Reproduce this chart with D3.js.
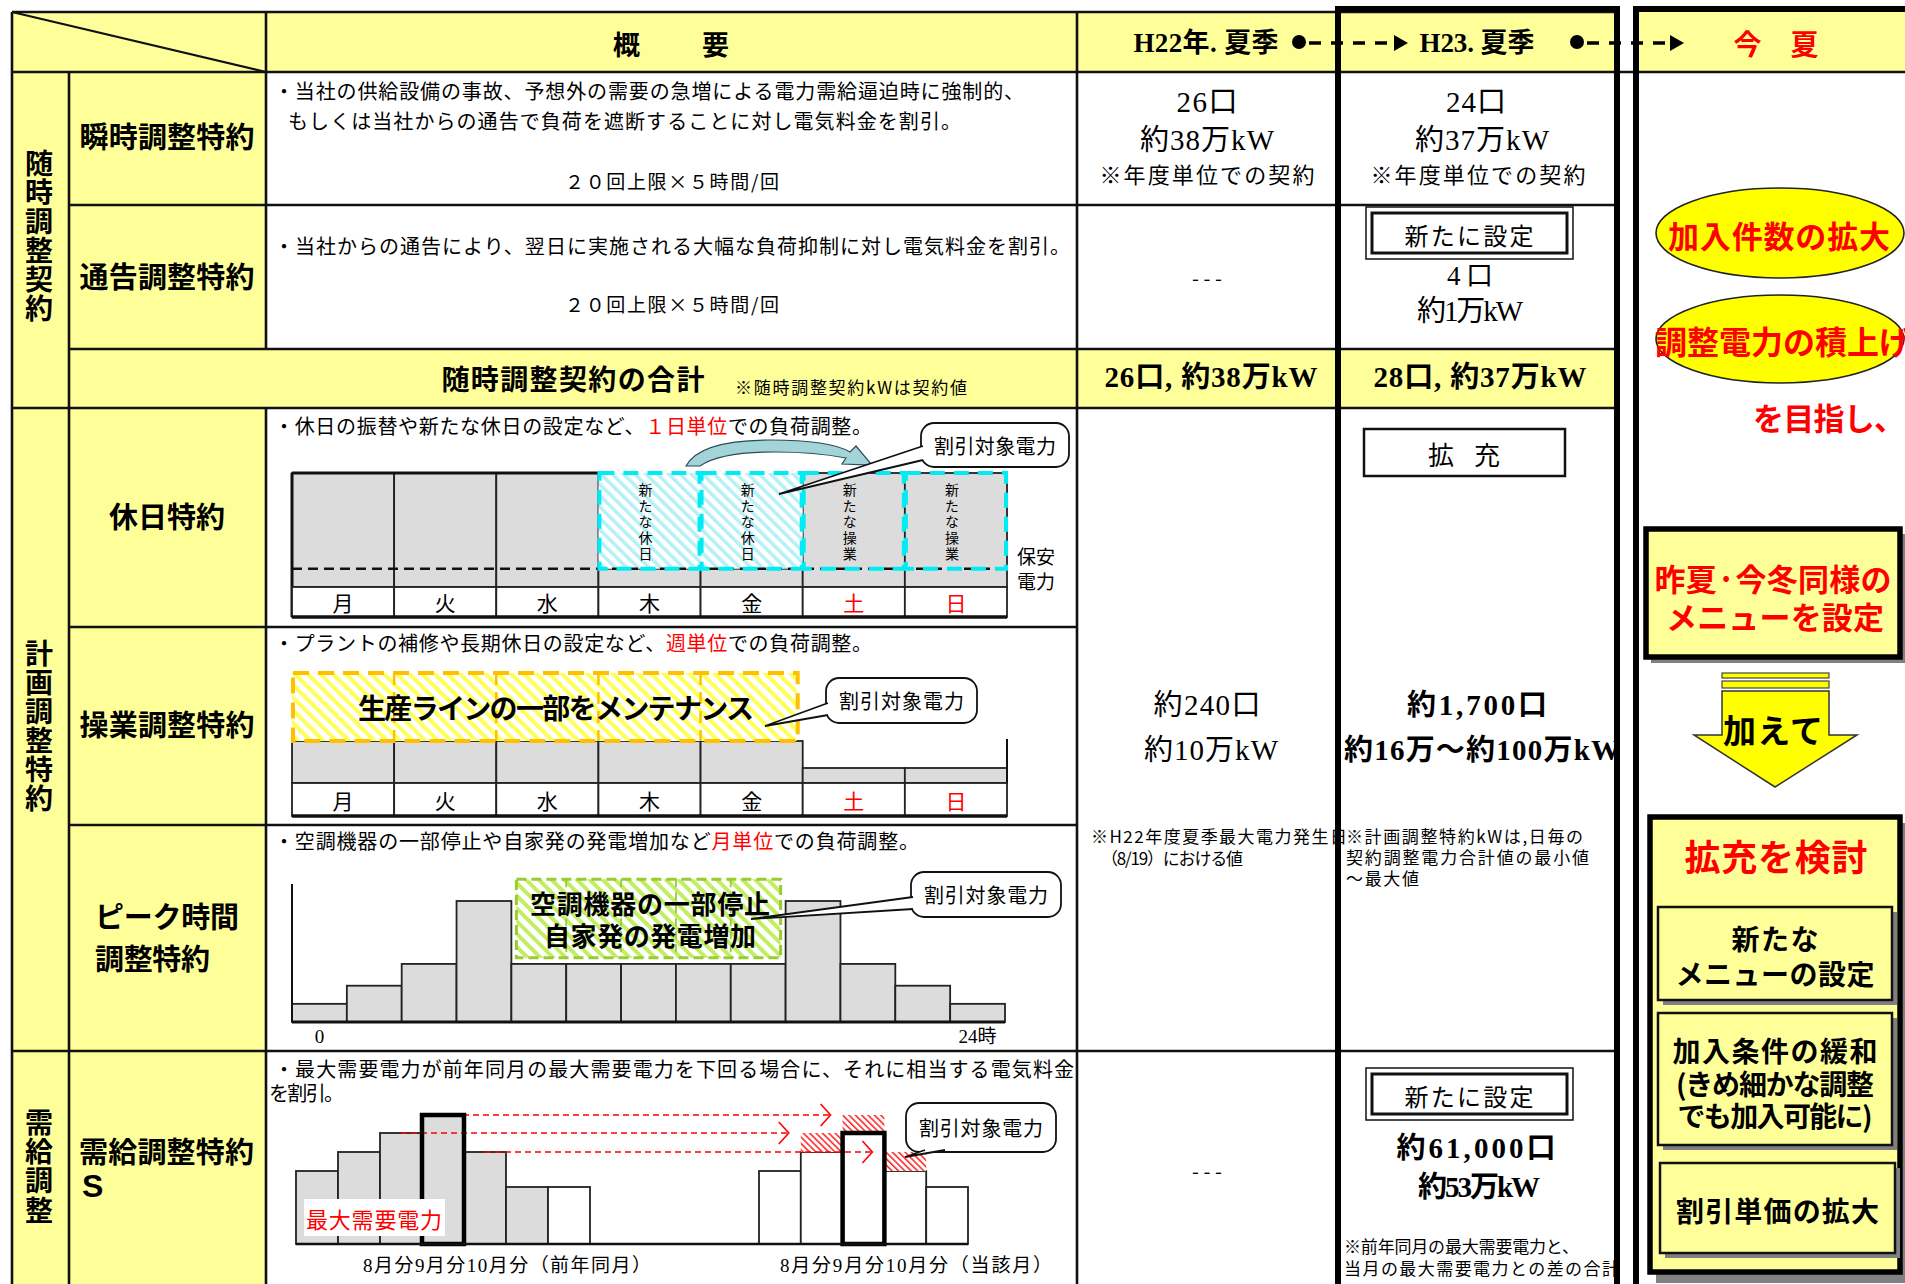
<!DOCTYPE html>
<html><head><meta charset="utf-8">
<script src="https://cdn.jsdelivr.net/npm/d3@7"></script>
<style>body{margin:0;background:#fff}svg{display:block}</style>
</head><body>
<script>
// ================= DATA =================
const headerTitles = ["概　要", "H22年. 夏季", "H23. 夏季", "今　夏"];
const groupLabels = ["随時調整契約", "計画調整特約", "需給調整"];
const contractNames = ["瞬時調整特約", "通告調整特約", "休日特約", "操業調整特約", "ピーク時間", "調整特約", "需給調整特約", "S"];
const totalLabel = "随時調整契約の合計";
const totalNote = "※随時調整契約kWは契約値";
const h22Values = ["26口", "約38万kW", "※年度単位での契約", "- - -", "26口, 約38万kW", "約240口", "約10万kW", "- - -"];
const h23Values = ["24口", "約37万kW", "※年度単位での契約", "4口", "約1万kW", "28口, 約37万kW", "約1,700口", "約16万～約100万kW", "約61,000口", "約53万kW"];
const h22Notes = ["※H22年度夏季最大電力発生日", "（8/19）における値"];
const h23PlanNotes = ["※計画調整特約kWは,日毎の", "契約調整電力合計値の最小値", "～最大値"];
const h23DemandNotes = ["※前年同月の最大需要電力と、", "当月の最大需要電力との差の合計"];
const days = ["月", "火", "水", "木", "金", "土", "日"];
const weekend = ["土", "日"];
// 休日特約 (load level, % of normal)
const holidayLoad = [100, 100, 100, 16, 16, 100, 100];
const holidayTarget = [0, 0, 0, 100, 100, 100, 100];
const holidayNotes = ["", "", "", "新たな休日", "新たな休日", "新たな操業", "新たな操業"];
const securityPower = 16;
// 操業調整特約
const operationLoad = [42, 42, 42, 42, 42, 15, 15];
const maintenanceTop = [110, 110, 110, 110, 110, 0, 0];
// ピーク時間調整特約 (13 time blocks, 0-24h)
const peakLoad = [15, 30, 48, 100, 48, 48, 48, 48, 48, 100, 48, 30, 15];
const peakCutBlocks = [4, 5, 6, 7, 8];
const peakCutRange = [53, 118];
const peakTickLabels = ["0", "24時"];
// 需給調整特約S (max demand by month)
const prevYearDemand = [73, 92, 111, 129, 92, 57, 57];
const currYearDemand = [73, 92, 111, 73, 57];
const discountPairs = [[1, 2], [2, 3], [3, 4]]; // [current idx, previous-year idx]
// right panel
const goals = ["加入件数の拡大", "調整電力の積上げ", "を目指し、"];
const sameMenu = ["昨夏·今冬同様の", "メニューを設定"];
const reviewItems = [["新たな", "メニューの設定"], ["加入条件の緩和", "(きめ細かな調整", "でも加入可能に)"], ["割引単価の拡大"]];

// ================= SETUP =================
const SANS = "'Noto Sans CJK JP','Noto Sans',sans-serif";
const SERIF = "'Liberation Serif','Noto Sans CJK JP',serif";
const YEL = "#ffff99";
const RED = "#ff0000";
const svg = d3.select("body").append("svg").attr("width", 1905).attr("height", 1284);
const defs = svg.append("defs");
function hatch(id, color, bg, sw, period) {
  const p = defs.append("pattern").attr("id", id).attr("patternUnits", "userSpaceOnUse")
    .attr("width", period).attr("height", period).attr("patternTransform", "rotate(-45)");
  p.append("rect").attr("width", period).attr("height", period).attr("fill", bg);
  p.append("rect").attr("width", sw).attr("height", period).attr("fill", color);
}
hatch("hCyan", "#b4f0f6", "#ffffff", 3.5, 8);
hatch("hYel", "#ffff55", "#ffffff", 4, 9);
hatch("hGrn", "#c2ee62", "#ffffff", 4, 9);
hatch("hRed", "#ff2a2a", "#ffffff", 1.6, 4.5);

function T(g, x, y, s, o = {}) {
  const t = g.append("text").attr("x", x).attr("y", y)
    .attr("font-size", o.size || 20).attr("font-weight", o.weight || 400)
    .attr("fill", o.fill || "#000").attr("text-anchor", o.anchor || "middle")
    .attr("dominant-baseline", "central").attr("font-family", o.family || SANS);
  if (Array.isArray(s)) s.forEach(p => t.append("tspan").text(p.t).attr("fill", p.c || null));
  else t.text(s);
  if (o.len) t.attr("textLength", o.len).attr("lengthAdjust", o.adj || "spacing");
  return t;
}
function V(g, x, yTop, s, size, spacing, weight) {
  return g.append("text").attr("x", x).attr("y", yTop)
    .style("writing-mode", "vertical-rl").attr("text-anchor", "start")
    .attr("font-size", size).attr("font-weight", weight || 400).attr("font-family", SANS)
    .attr("letter-spacing", spacing).attr("fill", "#000").text(s);
}
function R(g, x, y, w, h, fill, stroke, sw) {
  return g.append("rect").attr("x", x).attr("y", y).attr("width", w).attr("height", h)
    .attr("fill", fill || "none").attr("stroke", stroke || "none").attr("stroke-width", sw || 0);
}
function L(g, x1, y1, x2, y2, sw, col, dash) {
  const l = g.append("line").attr("x1", x1).attr("y1", y1).attr("x2", x2).attr("y2", y2)
    .attr("stroke", col || "#111").attr("stroke-width", sw || 2);
  if (dash) l.attr("stroke-dasharray", dash);
  return l;
}
function callout(g, bx, by, bw, bh, b1, b2, tip, label) {
  R(g, bx, by, bw, bh, "#fff", "#111", 1.8).attr("rx", 13);
  g.append("path").attr("d", `M${b1}L${tip}L${b2}Z`).attr("fill", "#fff");
  g.append("path").attr("d", `M${b1}L${tip}L${b2}`).attr("fill", "none").attr("stroke", "#111").attr("stroke-width", 1.8);
  T(g, bx + bw / 2, by + bh / 2, label, {size: 20, len: bw - 26});
}

// ================= BACKGROUND CELLS =================
const bg = svg.append("g");
R(bg, 12, 12, 1605, 60, YEL);
R(bg, 1636, 10, 269, 62, YEL);
R(bg, 12, 72, 254, 1212, YEL);
R(bg, 69, 349, 1548, 59, YEL);

// ================= 休日特約 chart =================
const g1 = svg.append("g");
const xDay = d3.scaleBand().domain(days).range([292, 1007]);
const bw = xDay.bandwidth();
const yHol = d3.scaleLinear().domain([0, 100]).range([587, 473]);
g1.selectAll("rect.hb").data(days).join("rect").attr("class", "hb")
  .attr("x", d => xDay(d)).attr("width", bw)
  .attr("y", (d, i) => yHol(holidayLoad[i])).attr("height", (d, i) => yHol(0) - yHol(holidayLoad[i]))
  .attr("fill", "#dcdcdc").attr("stroke", "#222").attr("stroke-width", 1.8);
g1.selectAll("rect.hh").data(days.filter((d, i) => holidayTarget[i] > holidayLoad[i])).join("rect").attr("class", "hh")
  .attr("x", d => xDay(d)).attr("width", bw)
  .attr("y", d => yHol(holidayTarget[days.indexOf(d)]))
  .attr("height", d => yHol(holidayLoad[days.indexOf(d)]) - yHol(holidayTarget[days.indexOf(d)]))
  .attr("fill", "url(#hCyan)");
L(g1, 292, 473, xDay("木"), 473, 3);
L(g1, 292, 473, 292, 617, 3);
L(g1, 292, yHol(securityPower), 1007, yHol(securityPower), 2.6, "#111", "10 6");
g1.selectAll("rect.hc").data(days.filter((d, i) => holidayTarget[i] > 0)).join("rect").attr("class", "hc")
  .attr("x", d => xDay(d) + 1).attr("width", bw - 2)
  .attr("y", d => yHol(holidayTarget[days.indexOf(d)])).attr("height", yHol(securityPower) - yHol(100))
  .attr("fill", "none").attr("stroke", "#00ecf4").attr("stroke-width", 4).attr("stroke-dasharray", "15 9");
days.forEach((d, i) => {
  if (!holidayNotes[i]) return;
  V(g1, xDay(d) + bw / 2 - 4, 483, holidayNotes[i], 14, 2);
});
g1.selectAll("rect.hd").data(days).join("rect").attr("class", "hd")
  .attr("x", d => xDay(d)).attr("width", bw).attr("y", 587).attr("height", 30)
  .attr("fill", "#fff").attr("stroke", "#222").attr("stroke-width", 1.8);
L(g1, 292, 617, 1007, 617, 3.5);
days.forEach(d => T(g1, xDay(d) + bw / 2, 602, d, {size: 21, fill: weekend.includes(d) ? RED : "#000"}));
T(g1, 1017, 555, "保安", {size: 19, anchor: "start"});
T(g1, 1017, 580, "電力", {size: 19, anchor: "start"});
// curved shift arrow
g1.append("path").attr("d", "M686,466 Q700,440 770,440 Q830,440 850,452 L856,446 L872,465 L842,464 L846,458 Q815,452 775,452 Q720,452 700,466 Z")
  .attr("fill", "#a2d4d8").attr("stroke", "#2e4a5a").attr("stroke-width", 1.2);
callout(g1, 921, 423, 148, 44, "923,446", "923,460", "779,494", "割引対象電力");
T(g1, 274, 425, [{t: "・休日の振替や新たな休日の設定など、"}, {t: "１日単位", c: RED}, {t: "での負荷調整。"}], {size: 20, anchor: "start", len: 598});

// ================= 操業調整特約 chart =================
const g2 = svg.append("g");
const yOp = d3.scaleLinear().domain([0, 110]).range([783, 673]);
g2.selectAll("rect.ob").data(days).join("rect").attr("class", "ob")
  .attr("x", d => xDay(d)).attr("width", bw)
  .attr("y", (d, i) => yOp(operationLoad[i])).attr("height", (d, i) => yOp(0) - yOp(operationLoad[i]))
  .attr("fill", "#dcdcdc").attr("stroke", "#222").attr("stroke-width", 1.8);
const mDays = days.filter((d, i) => maintenanceTop[i] > 0);
const mx0 = xDay(mDays[0]), mx1 = xDay(mDays[mDays.length - 1]) + bw - 6;
R(g2, mx0, yOp(110), mx1 - mx0, yOp(42) - yOp(110), "url(#hYel)");
mDays.slice(1).forEach(d => L(g2, xDay(d), yOp(110), xDay(d), yOp(42), 2.5, "#ffc000", "12 7"));
R(g2, mx0 + 1, yOp(110), mx1 - mx0, yOp(42) - yOp(110), "none", "#ffc000", 4).attr("stroke-dasharray", "16 9");
L(g2, 1007, yOp(42) - 2, 1007, 783, 2);
g2.selectAll("rect.od").data(days).join("rect").attr("class", "od")
  .attr("x", d => xDay(d)).attr("width", bw).attr("y", 783).attr("height", 33)
  .attr("fill", "#fff").attr("stroke", "#222").attr("stroke-width", 1.8);
L(g2, 292, 816, 1007, 816, 3.5);
days.forEach(d => T(g2, xDay(d) + bw / 2, 800, d, {size: 21, fill: weekend.includes(d) ? RED : "#000"}));
T(g2, 556, 707, "生産ラインの一部をメンテナンス", {size: 28, weight: 700, len: 396});
callout(g2, 826, 678, 151, 45, "828,703", "828,715", "765,726", "割引対象電力");
T(g2, 274, 642, [{t: "・プラントの補修や長期休日の設定など、"}, {t: "週単位", c: RED}, {t: "での負荷調整。"}], {size: 20, anchor: "start", len: 598});

// ================= ピーク時間調整特約 chart =================
const g3 = svg.append("g");
const xPeak = d3.scaleBand().domain(d3.range(peakLoad.length)).range([292, 1005]);
const pw = xPeak.bandwidth();
const yPeak = d3.scaleLinear().domain([0, 100]).range([1022, 901]);
g3.selectAll("rect.pb").data(peakLoad).join("rect").attr("class", "pb")
  .attr("x", (d, i) => xPeak(i)).attr("width", pw)
  .attr("y", d => yPeak(d)).attr("height", d => yPeak(0) - yPeak(d))
  .attr("fill", "#dcdcdc").attr("stroke", "#222").attr("stroke-width", 1.8);
L(g3, 292, 884, 292, 1022, 2);
L(g3, 292, 1022, 1005, 1022, 3.2);
const cx0 = xPeak(peakCutBlocks[0]) + 5, cx1 = xPeak(peakCutBlocks[peakCutBlocks.length - 1]) + pw - 5;
R(g3, cx0, yPeak(peakCutRange[1]), cx1 - cx0, yPeak(peakCutRange[0]) - yPeak(peakCutRange[1]), "url(#hGrn)");
peakCutBlocks.slice(1).forEach(i => L(g3, xPeak(i), yPeak(peakCutRange[1]), xPeak(i), yPeak(peakCutRange[0]), 1.8, "#99cc33", "8 5"));
R(g3, cx0, yPeak(peakCutRange[1]), cx1 - cx0, yPeak(peakCutRange[0]) - yPeak(peakCutRange[1]), "none", "#99cc33", 3).attr("stroke-dasharray", "10 5");
T(g3, 650, 902, "空調機器の一部停止", {size: 26, weight: 700, len: 240});
T(g3, 650, 934, "自家発の発電増加", {size: 26, weight: 700, len: 212});
const pax = d3.axisBottom(xPeak).tickValues([0, peakLoad.length - 1])
  .tickFormat(d => peakTickLabels[d === 0 ? 0 : 1]).tickSize(0).tickPadding(8);
const paxG = g3.append("g").attr("transform", "translate(0,1022)").call(pax);
paxG.select(".domain").remove();
paxG.selectAll("text").attr("font-size", 19).attr("font-family", SERIF).attr("fill", "#000");
callout(g3, 911, 872, 150, 45, "913,897", "913,909", "751,919", "割引対象電力");
T(g3, 274, 840, [{t: "・空調機器の一部停止や自家発の発電増加など"}, {t: "月単位", c: RED}, {t: "での負荷調整。"}], {size: 20, anchor: "start", len: 645});

// ================= 需給調整特約S chart =================
const g4 = svg.append("g");
const xPrev = d3.scaleBand().domain(d3.range(prevYearDemand.length)).range([296, 590]);
const xCurr = d3.scaleBand().domain(d3.range(currYearDemand.length)).range([759, 968]);
const yDem = d3.scaleLinear().domain([0, 140]).range([1244, 1104]);
g4.selectAll("rect.pv").data(prevYearDemand).join("rect").attr("class", "pv")
  .attr("x", (d, i) => xPrev(i)).attr("width", xPrev.bandwidth())
  .attr("y", d => yDem(d)).attr("height", d => yDem(0) - yDem(d))
  .attr("fill", (d, i) => i < prevYearDemand.length - 1 ? "#dcdcdc" : "#fff").attr("stroke", "#222").attr("stroke-width", 1.8);
g4.selectAll("rect.cv").data(currYearDemand).join("rect").attr("class", "cv")
  .attr("x", (d, i) => xCurr(i)).attr("width", xCurr.bandwidth())
  .attr("y", d => yDem(d)).attr("height", d => yDem(0) - yDem(d))
  .attr("fill", "#fff").attr("stroke", "#222").attr("stroke-width", 1.8);
discountPairs.forEach(([c, p]) => {
  R(g4, xCurr(c), yDem(prevYearDemand[p]), xCurr.bandwidth(), yDem(currYearDemand[c]) - yDem(prevYearDemand[p]), "url(#hRed)");
  const y = yDem(prevYearDemand[p]);
  const xe = xCurr(c) - 12;
  L(g4, xPrev(p) + xPrev.bandwidth() / 2, y, xe, y, 1.6, RED, "6 4");
  g4.append("path").attr("d", `M${xe - 10},${y - 11}L${xe},${y}L${xe - 10},${y + 11}`).attr("fill", "none").attr("stroke", RED).attr("stroke-width", 1.6);
});
const pMax = d3.maxIndex(prevYearDemand), cMax = d3.maxIndex(currYearDemand);
R(g4, xPrev(pMax), yDem(prevYearDemand[pMax]), xPrev.bandwidth(), yDem(0) - yDem(prevYearDemand[pMax]), "none", "#000", 4.5);
R(g4, xCurr(cMax), yDem(currYearDemand[cMax]), xCurr.bandwidth(), yDem(0) - yDem(currYearDemand[cMax]), "none", "#000", 4.5);
L(g4, 296, 1244, 968, 1244, 2.5);
R(g4, 304, 1199, 141, 37, "#fff");
T(g4, 374, 1218, "最大需要電力", {size: 22, fill: RED, len: 136});
T(g4, 363, 1265, "8月分9月分10月分（前年同月）", {size: 19, family: SERIF, anchor: "start", len: 288});
T(g4, 780, 1265, "8月分9月分10月分（当該月）", {size: 19, family: SERIF, anchor: "start", len: 272});
callout(g4, 906, 1103, 150, 49, "925,1150", "945,1150", "905,1157", "割引対象電力");
T(g4, 274, 1068, "・最大需要電力が前年同月の最大需要電力を下回る場合に、それに相当する電気料金", {size: 20, anchor: "start", len: 800});
T(g4, 269, 1092, "を割引。", {size: 20, anchor: "start", len: 75});

// ================= SUMMARY TEXTS (rows 1-3) =================
const gt = svg.append("g");
T(gt, 274, 90, "・当社の供給設備の事故、予想外の需要の急増による電力需給逼迫時に強制的、", {size: 20, anchor: "start", len: 750});
T(gt, 288, 120, "もしくは当社からの通告で負荷を遮断することに対し電気料金を割引。", {size: 20, anchor: "start", len: 673});
T(gt, 672, 180, "２０回上限×５時間/回", {size: 19, len: 214});
T(gt, 274, 245, "・当社からの通告により、翌日に実施される大幅な負荷抑制に対し電気料金を割引。", {size: 20, anchor: "start", len: 796});
T(gt, 672, 303, "２０回上限×５時間/回", {size: 19, len: 214});
T(gt, 573, 378, totalLabel, {size: 28, weight: 700, len: 263});
T(gt, 735, 386, totalNote, {size: 17, anchor: "start", len: 232});

// ================= HEADER =================
const gh = svg.append("g");
T(gh, 671, 43, headerTitles[0], {size: 27, weight: 700, len: 116});
T(gh, 1206, 43, headerTitles[1], {size: 27, weight: 700, family: SERIF, len: 145});
T(gh, 1477, 43, headerTitles[2], {size: 27, weight: 700, family: SERIF, len: 115});
T(gh, 1776, 43, headerTitles[3], {size: 28, weight: 700, fill: RED, len: 85});
[[1299, 1396], [1577, 1672]].forEach(([x0, x1]) => {
  gh.append("circle").attr("cx", x0).attr("cy", 42).attr("r", 7).attr("fill", "#000");
  L(gh, x0 + 10, 43, x1, 43, 3.5, "#000", "12 10");
  gh.append("path").attr("d", `M${x1 - 2},35L${x1 + 12},43L${x1 - 2},51Z`).attr("fill", "#000");
});

// left labels
const gl = svg.append("g");
V(gl, 39, 149, groupLabels[0], 28, 1, 700);
V(gl, 39, 639, groupLabels[1], 28, 1, 700);
V(gl, 39, 1108, groupLabels[2], 28, 1.3, 700);
T(gl, 167, 135, contractNames[0], {size: 29, weight: 700, len: 175});
T(gl, 167, 275, contractNames[1], {size: 29, weight: 700, len: 175});
T(gl, 167, 515, contractNames[2], {size: 29, weight: 700, len: 116});
T(gl, 167, 723, contractNames[3], {size: 29, weight: 700, len: 175});
T(gl, 95, 915, contractNames[4], {size: 29, weight: 700, anchor: "start", len: 144});
T(gl, 95, 957, contractNames[5], {size: 29, weight: 700, anchor: "start", len: 115});
T(gl, 79, 1150, contractNames[6], {size: 29, weight: 700, anchor: "start", len: 175});
T(gl, 82, 1186, contractNames[7], {size: 32, weight: 700, anchor: "start", family: "'Liberation Sans',sans-serif"});

// ================= H22 / H23 columns =================
const gv = svg.append("g");
const c22 = 1207, c23 = 1478;
T(gv, c22, 102, h22Values[0], {size: 29, family: SERIF, len: 61});
T(gv, c22, 140, h22Values[1], {size: 29, family: SERIF, len: 134});
T(gv, c22, 173, h22Values[2], {size: 22, len: 215});
T(gv, c22, 277, h22Values[3], {size: 20});
T(gv, 1211, 377, h22Values[4], {size: 29, weight: 700, family: SERIF, len: 213});
T(gv, c22, 705, h22Values[5], {size: 29, family: SERIF, len: 107});
T(gv, 1211, 750, h22Values[6], {size: 29, family: SERIF, len: 134});
T(gv, c22, 1170, h22Values[7], {size: 20});
T(gv, 1091, 835, h22Notes[0], {size: 17, anchor: "start", len: 256});
T(gv, 1101, 857, h22Notes[1], {size: 17, anchor: "start", len: 142});

T(gv, 1476, 102, h23Values[0], {size: 29, family: SERIF, len: 60});
T(gv, 1482, 140, h23Values[1], {size: 29, family: SERIF, len: 134});
T(gv, c23, 173, h23Values[2], {size: 22, len: 215});
function dblBox(y0) {
  R(gv, 1366, y0, 207, 52, "#fff", "#111", 1.5);
  R(gv, 1372, y0 + 6, 195, 40, "none", "#111", 3);
  T(gv, 1469, y0 + 27, "新たに設定", {size: 24, len: 129});
}
dblBox(207);
T(gv, 1470, 276, h23Values[3], {size: 27, family: SERIF, len: 46});
T(gv, 1470, 311, h23Values[4], {size: 29, family: SERIF, len: 106});
T(gv, 1480, 377, h23Values[5], {size: 29, weight: 700, family: SERIF, len: 213});
R(gv, 1364, 429, 201, 47, "#fff", "#111", 2.5);
T(gv, 1464, 453, "拡　充", {size: 26, len: 72});
T(gv, 1477, 705, h23Values[6], {size: 29, weight: 700, family: SERIF, len: 140});
T(gv, 1344, 750, h23Values[7], {size: 29, weight: 700, family: SERIF, anchor: "start", len: 276});
h23PlanNotes.forEach((s, i) => T(gv, 1346, [835, 856, 877][i], s, {size: 17, anchor: "start", len: [237, 243, 73][i]}));
dblBox(1068);
T(gv, 1476, 1148, h23Values[8], {size: 29, weight: 700, family: SERIF, len: 159});
T(gv, 1479, 1187, h23Values[9], {size: 29, weight: 700, family: SERIF, len: 122});
h23DemandNotes.forEach((s, i) => T(gv, 1344, [1245, 1267][i], s, {size: 17, anchor: "start", len: [235, 275][i]}));

// ================= RIGHT PANEL =================
const gr = svg.append("g");
gr.append("ellipse").attr("cx", 1780).attr("cy", 233).attr("rx", 124).attr("ry", 45).attr("fill", "#ffff00").attr("stroke", "#222").attr("stroke-width", 1.6);
gr.append("ellipse").attr("cx", 1780).attr("cy", 339).attr("rx", 124).attr("ry", 44).attr("fill", "#ffff00").attr("stroke", "#222").attr("stroke-width", 1.6);
T(gr, 1779, 234, goals[0], {size: 31, weight: 700, fill: RED, len: 222});
T(gr, 1655, 340, goals[1], {size: 32, weight: 700, fill: RED, anchor: "start", len: 256});
T(gr, 1753, 416, goals[2], {size: 31, weight: 700, fill: RED, anchor: "start", len: 152});
R(gr, 1651, 534, 254, 129, "#808080");
R(gr, 1646, 529, 254, 128, YEL, "#000", 5.5);
T(gr, 1773, 577, sameMenu[0], {size: 31, weight: 700, fill: RED, len: 237});
T(gr, 1775, 615, sameMenu[1], {size: 31, weight: 700, fill: RED, len: 218});
R(gr, 1722, 673, 107, 5, "#ffff00", "#444", 1.2);
R(gr, 1722, 681, 107, 7, "#ffff00", "#444", 1.2);
gr.append("path").attr("d", "M1722,691L1829,691L1829,735L1857,735L1775,787L1694,735L1722,735Z").attr("fill", "#ffff00").attr("stroke", "#333").attr("stroke-width", 1.5);
T(gr, 1773, 729, "加えて", {size: 33, weight: 700, len: 100});
R(gr, 1656, 823, 254, 460, "#808080");
R(gr, 1650, 817, 250, 455, YEL, "#000", 5.5);
T(gr, 1776, 855, "拡充を検討", {size: 36, weight: 700, fill: RED, len: 183});
const boxes = [[1658, 907, 234, 93], [1658, 1013, 234, 132], [1660, 1163, 235, 90]];
const lineYs = [[938, 973], [1050, 1083, 1115], [1210]];
const lineLens = [[87, 199], [205, 198, 195], [203]];
boxes.forEach(([x, y, w, h], i) => {
  R(gr, x + 5, y + 5, w, h, "#808080");
  R(gr, x, y, w, h, YEL, "#111", 2.5);
  reviewItems[i].forEach((s, k) => T(gr, x + w / 2, lineYs[i][k], s, {size: 28, weight: 700, len: lineLens[i][k]}));
});

// ================= GRID LINES =================
const gg = svg.append("g");
[[12, 12, 1617], [72, 12, 1905], [205, 69, 1617], [349, 69, 1617], [408, 12, 1617], [627, 69, 1077], [825, 69, 1077], [1051, 12, 1617]]
  .forEach(([y, a, b]) => L(gg, a, y, b, y, 2.6));
[[12, 12, 1284], [69, 72, 1284], [266, 12, 349], [266, 408, 1284], [1077, 12, 1284]]
  .forEach(([x, a, b]) => L(gg, x, a, x, b, 2.6));
L(gg, 12, 12, 266, 72, 2.2);
// thick frames
L(gg, 1335, 9, 1620, 9, 6, "#000");
L(gg, 1338, 6, 1338, 1284, 6, "#000");
L(gg, 1617, 6, 1617, 1284, 6, "#000");
L(gg, 1633, 9, 1905, 9, 6, "#000");
L(gg, 1636, 6, 1636, 1284, 6, "#000");
</script>
</body></html>
